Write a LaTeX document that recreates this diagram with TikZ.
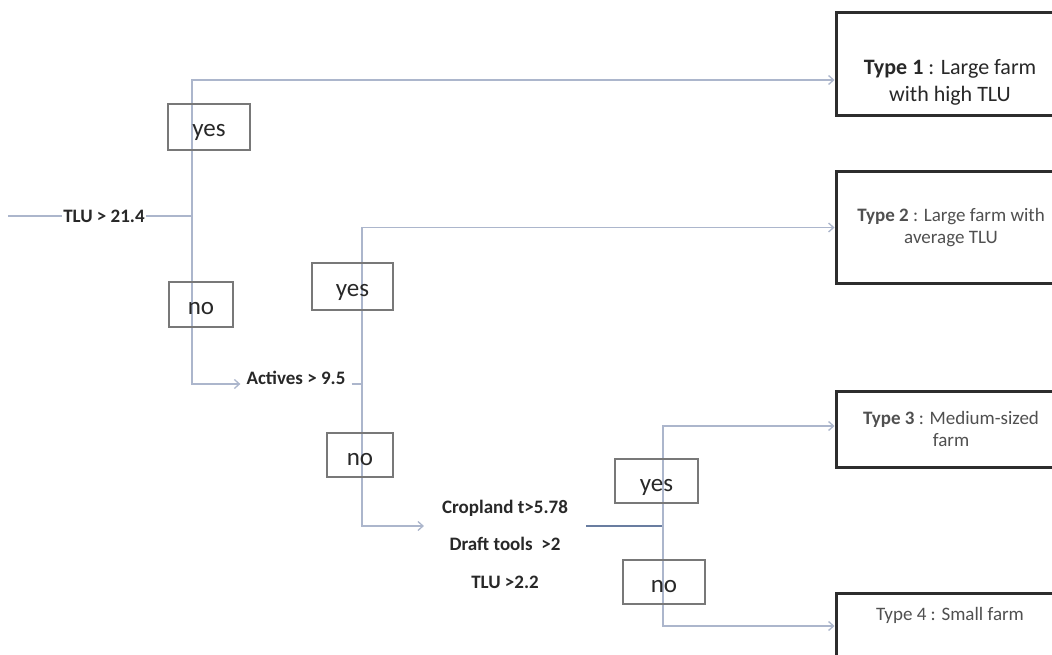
\documentclass[tikz,border=0pt]{standalone}
\usepackage{fontspec}
\setmainfont{Carlito}
\usetikzlibrary{arrows.meta}
\definecolor{linkc}{RGB}{172,182,204}
\definecolor{linkdark}{RGB}{105,125,160}
\definecolor{boxgray}{RGB}{120,120,120}
\definecolor{typeframe}{RGB}{45,45,45}
\definecolor{inkc}{RGB}{40,40,40}
\definecolor{softink}{RGB}{80,80,80}
\begin{document}
\begin{tikzpicture}[x=1pt,y=-1pt,
  link/.style={draw=linkc,line width=1.3pt},
  arrowlink/.style={link,-{Straight Barb[length=5pt,width=9pt]}},
  choice/.style={draw=boxgray,line width=1.6pt,inner sep=0pt,text height=22pt,text depth=2pt,
    font=\fontsize{25}{29}\selectfont,text=inkc},
  cond/.style={font=\bfseries\fontsize{19}{23}\selectfont,text=inkc},
  typebox/.style={draw=typeframe,line width=3pt,minimum width=230pt,inner sep=0pt,
    align=center,text=softink,font=\fontsize{19}{22}\selectfont},
  typetext/.style={align=center,text=softink,font=\fontsize{19}{22}\selectfont}
]
\clip (0,0) rectangle (1052,655);
\fill[white] (0,0) rectangle (1052,655);

% outcome boxes (they run past the right edge)
\node[typebox,minimum height=103pt] (t1) at (951,64.5) {};
\node[typetext,text=inkc,font=\fontsize{22}{27}\selectfont] (t1label) at (950,82) {\textbf{Type 1} : Large farm\\with high TLU};
\node[typebox,minimum height=111pt] (t2) at (951,227.5) {\textbf{Type 2} : Large farm with\\average TLU};
\node[typebox,minimum height=76pt] (t3) at (951,429) {\textbf{Type 3} : Medium-sized\\farm};
\node[typebox,minimum height=66pt] (t4) at (951,626) {};
\node[typetext] (t4label) at (950,615) {Type 4 : Small farm};

% junctions of the tree
\coordinate (in0) at (8,216);
\coordinate (j1) at (192,216);
\coordinate (j2) at (362,384);
\coordinate (j3) at (663,526);

% first split
\draw[link] (in0) -- (j1);
\node[cond,fill=white,inner xsep=1pt,inner ysep=0pt] (c1) at (104,216) {TLU > 21.4};
\draw[arrowlink] (j1) |- ([yshift=-15.5pt]t1.west);

% second split
\node[cond,inner xsep=6pt,inner ysep=2pt] (c2) at (296,378) {Actives > 9.5};
\draw[arrowlink] (j1) |- (c2.west |- j2);
\draw[link] (c2.east |- j2) -- (j2);
\draw[arrowlink] (j2) |- (t2.west);

% third split
\node[cond,align=center,font=\bfseries\fontsize{19}{37.5}\selectfont,inner xsep=18pt] (c3) at (505,544)
  {Cropland t>5.78\\Draft tools\ \ >2\\TLU >2.2};
\draw[arrowlink] (j2) |- (c3.west |- j3);
\draw[link,draw=linkdark,line width=2.4pt] (c3.east |- j3) -- (j3);
\draw[arrowlink] (j3) |- ([yshift=3pt]t3.west);
\draw[arrowlink] (j3) |- (t4.west);

% branch labels
\node[choice,minimum width=82pt,minimum height=46pt] (yes1) at (209,127) {yes};
\node[choice,minimum width=64pt,minimum height=45pt] (no1) at (201,304.5) {no};
\node[choice,minimum width=81pt,minimum height=47pt] (yes2) at (352.5,286.5) {yes};
\node[choice,minimum width=66pt,minimum height=44pt] (no2) at (360,455) {no};
\node[choice,minimum width=83pt,minimum height=44pt] (yes3) at (656.5,481) {yes};
\node[choice,minimum width=82pt,minimum height=44pt] (no3) at (664,582) {no};
\end{tikzpicture}
\end{document}
